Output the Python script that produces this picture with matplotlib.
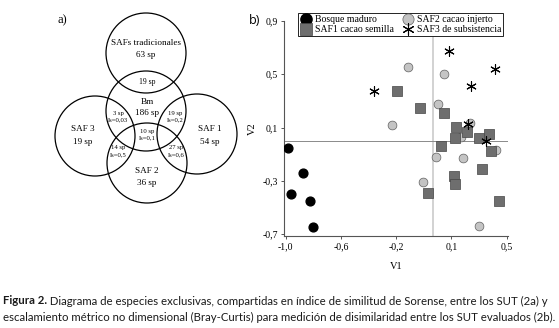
import matplotlib
matplotlib.use("Agg")
import matplotlib.pyplot as plt
from matplotlib.patches import Circle
import numpy as np

# ---------------- data ----------------
# Venn diagram (a)
venn_sets = ["SAFs tradicionales", "Bm", "SAF 3", "SAF 1", "SAF 2"]
venn_counts = ["63 sp", "186 sp", "19 sp", "54 sp", "36 sp"]
shared_counts = ["19 sp", "3 sp", "19 sp", "10 sp", "14 sp", "27 sp"]
shared_index = ["", "Is=0,03", "Is=0,2", "Is=0,1", "Is=0,5", "Is=0,6"]

# NMDS (b)
bosque_x = [-0.986, -0.880, -0.966, -0.835, -0.813]
bosque_y = [-0.056, -0.244, -0.400, -0.452, -0.648]

saf2_x = [-0.172, 0.075, -0.276, 0.034, 0.251, 0.188, 0.020, 0.206, 0.428, -0.070, 0.310]
saf2_y = [0.557, 0.502, 0.119, 0.276, 0.131, 0.026, -0.119, -0.132, -0.069, -0.307, -0.640]

saf1_x = [-0.244, -0.088, 0.073, 0.156, 0.229, 0.149, 0.314, 0.382, 0.052, 0.396, 0.143, 0.147, 0.333, -0.036, 0.448]
saf1_y = [0.376, 0.249, 0.207, 0.106, 0.068, 0.019, 0.019, 0.051, -0.039, -0.074, -0.262, -0.327, -0.215, -0.390, -0.452]

saf3_x = [0.106, 0.419, -0.398, 0.256, 0.236, 0.360]
saf3_y = [0.677, 0.537, 0.376, 0.412, 0.126, -0.004]

xticks = [-1.0, -0.625, -0.25, 0.125, 0.5]
xtick_labels = ["-1,0", "-0,6", "-0,2", "0,1", "0,5"]
yticks = [0.9, 0.5, 0.1, -0.3, -0.7]
ytick_labels = ["0,9", "0,5", "0,1", "-0,3", "-0,7"]

legend_labels = ["Bosque maduro", "SAF1 cacao semilla", "SAF2 cacao injerto", "SAF3 de subsistencia"]

caption_bold = "Figura 2."
caption_1 = " Diagrama de especies exclusivas, compartidas en índice de similitud de Sorense, entre los SUT (2a) y"
caption_2 = "escalamiento métrico no dimensional (Bray-Curtis) para medición de disimilaridad entre los SUT evaluados (2b)."

# ---------------- figure ----------------
W, H = 559, 328
fig = plt.figure(figsize=(W / 100, H / 100), dpi=100)
serif = ["Liberation Serif", "DejaVu Serif"]

# background axes in pixel coords for panel a and caption
bg = fig.add_axes([0, 0, 1, 1])
bg.set_xlim(0, W)
bg.set_ylim(H, 0)
bg.axis("off")

circle_centers = [(146, 53), (146, 111), (95, 136), (197, 134), (147, 163)]
for (cx, cy) in circle_centers:
    bg.add_patch(Circle((cx, cy), 40, fill=False, edgecolor="black", lw=0.9))

set_name_pos = [(146, 43), (147, 102), (83, 129), (210, 129), (147, 171)]
set_count_pos = [(146, 55), (147, 113), (83, 142), (210, 142), (147, 183)]
for name, cnt, p1, p2 in zip(venn_sets, venn_counts, set_name_pos, set_count_pos):
    bg.text(p1[0], p1[1], name, ha="center", va="center", fontsize=6.6, family=serif)
    bg.text(p2[0], p2[1], cnt, ha="center", va="center", fontsize=6.6, family=serif)

shared_pos = [(147, 82), (118, 113), (175, 113), (147, 131), (118, 148), (176, 148)]
for cnt, idx, p in zip(shared_counts, shared_index, shared_pos):
    if idx == "":
        bg.text(p[0], p[1], cnt, ha="center", va="center", fontsize=5.5, family=serif)
    else:
        bg.text(p[0], p[1], cnt, ha="center", va="center", fontsize=4.8, family=serif)
        bg.text(p[0], p[1] + 7, idx, ha="center", va="center", fontsize=4.8, family=serif)

bg.text(62, 20, "a)", ha="center", va="center", fontsize=9, family=serif)
bg.text(255, 20, "b)", ha="center", va="center", fontsize=9, family=["Open Sans", "DejaVu Sans"])

# caption
cap_kw = dict(fontsize=8.2, family=["Lato", "DejaVu Sans"], color="#1a1a1a", va="center", ha="left")
tb = bg.text(3, 301, caption_bold, fontweight="bold", **cap_kw)
fig.canvas.draw()
r = fig.canvas.get_renderer()
bb = tb.get_window_extent(renderer=r)
bg.text(bb.x1, 301, caption_1, **cap_kw)
bg.text(3, 317, caption_2, **cap_kw)

# ---------------- panel b ----------------
ax = fig.add_axes([284 / W, 1 - 236 / H, (507.7 - 284) / W, (236 - 21) / H])
ax.set_xlim(-1.012, 0.507)
ax.set_ylim(-0.715, 0.9)
ax.patch.set_alpha(0)
for s in ["top", "right"]:
    ax.spines[s].set_visible(False)
for s in ["left", "bottom"]:
    ax.spines[s].set_color("#555555")
    ax.spines[s].set_linewidth(0.8)

ax.axvline(0, color="#cfcfcf", lw=1.3, zorder=1)
ax.axhline(0, color="#8a8a8a", lw=0.7, zorder=1)

h1 = ax.scatter(bosque_x, bosque_y, s=40, c="black", marker="o", zorder=3)
h3 = ax.scatter(saf2_x, saf2_y, s=40, c="#c4c4c4", edgecolors="#606060", linewidths=0.5, marker="o", zorder=3)
h2 = ax.scatter(saf1_x, saf1_y, s=42, c="#6e6e6e", edgecolors="#454545", linewidths=0.5, marker="s", zorder=4)
h4 = ax.scatter(saf3_x, saf3_y, s=48, c="black", marker=(6, 2, 0), linewidths=0.8, zorder=5)

ax.set_xticks(xticks)
ax.set_xticklabels(xtick_labels)
ax.set_yticks(yticks)
ax.set_yticklabels(ytick_labels)
ax.tick_params(length=2.5, width=0.7, color="#555555", labelsize=7, pad=2)
for lab in ax.get_xticklabels() + ax.get_yticklabels():
    lab.set_family(serif)

ax.set_xlabel("V1", fontsize=7.5, family=serif, labelpad=8)
ax.set_ylabel("V2", fontsize=7.5, family=serif, labelpad=4)

leg = ax.legend([h1, h2, h3, h4], legend_labels, ncol=2, loc="upper left",
                bbox_to_anchor=(298 / W, 1 - 13 / H), bbox_transform=fig.transFigure,
                frameon=True, fancybox=False, edgecolor="black", framealpha=1,
                prop={"family": "Liberation Serif", "size": 7},
                borderpad=0.2, handletextpad=0.3, columnspacing=0.9,
                labelspacing=0.1, handlelength=1.2, borderaxespad=0)
leg.get_frame().set_linewidth(0.6)
for hnd in leg.legend_handles:
    hnd.set_sizes([65])

fig.savefig("out.png", dpi=100)
